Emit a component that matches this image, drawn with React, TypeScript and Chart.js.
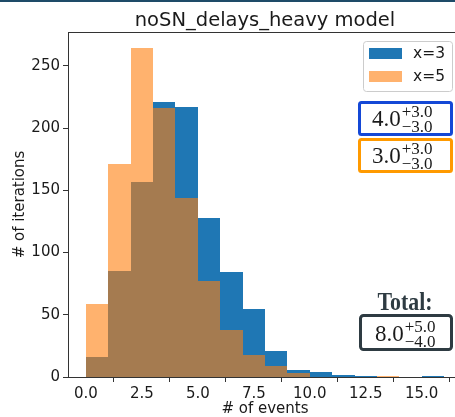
import React, { useEffect, useRef } from "react";
import { Chart, registerables } from "chart.js";

Chart.register(...registerables);

// ---------- data ----------
const binLefts = [0, 1, 2, 3, 4, 5, 6, 7, 8, 9, 10, 11, 12, 13, 14, 15];
const binWidth = 1;
const countsX3 = [16, 85, 157, 221, 217, 128, 84, 55, 21, 6, 4, 2, 1, 0, 0, 1];
const countsX5 = [59, 171, 264, 216, 144, 77, 38, 18, 9, 3, 0, 0, 0, 1, 0, 0];
const seriesLabels = ["x=3", "x=5"];
const xTicks = [0, 2.5, 5, 7.5, 10, 12.5, 15];
const yTicks = [0, 50, 100, 150, 200, 250];
const xRange = [-0.8, 16.8];
const yRange = [0, 277.2];
const titleText = "noSN_delays_heavy model";
const xLabel = "# of events";
const yLabel = "# of iterations";
const estimateMain = ["4.0", "3.0", "8.0"];
const estimateUp = ["+3.0", "+3.0", "+5.0"];
const estimateDown = ["\u22123.0", "\u22123.0", "\u22124.0"];
const totalLabel = "Total:";

const BLUE = "#1f77b4";
const ORANGE = "rgba(255,127,14,0.6)";
const SANS = '"DejaVu Sans", sans-serif';
const SERIF = '"Liberation Serif", serif';

function drawEstimate(ctx: CanvasRenderingContext2D, x: number, base: number, i: number) {
  ctx.fillStyle = "#1a1a1a";
  ctx.textAlign = "left";
  ctx.textBaseline = "alphabetic";
  ctx.font = `23px ${SERIF}`;
  ctx.fillText(estimateMain[i], x, base);
  const w = ctx.measureText(estimateMain[i]).width;
  ctx.font = `17px ${SERIF}`;
  ctx.fillText(estimateUp[i], x + w + 1, base - 9);
  ctx.fillText(estimateDown[i], x + w + 1, base + 6);
}

// snap bar edges to whole pixels so adjacent bins meet without seams
const snapPlugin = {
  id: "snapBars",
  beforeDatasetsDraw(chart: any) {
    chart.getSortedVisibleDatasetMetas().forEach((meta: any) => {
      meta.data.forEach((el: any) => {
        const l = Math.round(el.x - el.width / 2);
        const r = Math.round(el.x + el.width / 2);
        el.x = (l + r) / 2;
        el.width = r - l;
        el.y = Math.round(el.y);
        el.base = Math.round(el.base);
      });
    });
  },
};

const overlayPlugin = {
  id: "overlay",
  afterDraw(chart: any) {
    const ctx: CanvasRenderingContext2D = chart.ctx;
    const a = chart.chartArea;
    ctx.save();
    // slide strip
    ctx.fillStyle = "#1e4b68";
    ctx.fillRect(0, 0, 470, 2);
    // top/right spines
    ctx.strokeStyle = "#333";
    ctx.lineWidth = 1;
    ctx.beginPath();
    ctx.moveTo(a.left, Math.round(a.top) + 0.5);
    ctx.lineTo(a.right, Math.round(a.top) + 0.5);
    ctx.lineTo(a.right, a.bottom);
    ctx.stroke();
    // title
    ctx.fillStyle = "#1a1a1a";
    ctx.font = `19.5px ${SANS}`;
    ctx.textAlign = "center";
    ctx.textBaseline = "alphabetic";
    ctx.fillText(titleText, (a.left + a.right) / 2, 26);
    // axis labels
    ctx.font = `15px ${SANS}`;
    ctx.fillText(xLabel, (a.left + a.right) / 2, 413);
    ctx.save();
    ctx.translate(24, (a.top + a.bottom) / 2);
    ctx.rotate(-Math.PI / 2);
    ctx.fillText(yLabel, 0, 0);
    ctx.restore();
    // legend
    ctx.fillStyle = "rgba(255,255,255,0.8)";
    ctx.strokeStyle = "#cccccc";
    ctx.beginPath();
    ctx.roundRect(363.5, 41.5, 89, 50, 3);
    ctx.fill();
    ctx.stroke();
    const colors = [BLUE, ORANGE];
    seriesLabels.forEach((lab, i) => {
      const y = 48 + i * 23;
      ctx.fillStyle = colors[i];
      ctx.fillRect(369, y, 33, 11);
      ctx.fillStyle = "#1a1a1a";
      ctx.font = `15.5px ${SANS}`;
      ctx.textAlign = "left";
      ctx.textBaseline = "middle";
      ctx.fillText(lab, 413, y + 5.5);
    });
    // estimate boxes
    ctx.lineWidth = 3;
    ctx.fillStyle = "#fff";
    ctx.strokeStyle = "#1448d6";
    ctx.beginPath();
    ctx.roundRect(359.5, 102.5, 92, 32, 2);
    ctx.fill();
    ctx.stroke();
    drawEstimate(ctx, 372, 126, 0);
    ctx.fillStyle = "#fff";
    ctx.strokeStyle = "#ff9a00";
    ctx.beginPath();
    ctx.roundRect(359.5, 139.5, 92, 32, 2);
    ctx.fill();
    ctx.stroke();
    drawEstimate(ctx, 372, 163, 1);
    // total
    ctx.save();
    ctx.fillStyle = "#2e3b42";
    ctx.translate(405, 310);
    ctx.scale(0.84, 1);
    ctx.font = `bold 26px ${SERIF}`;
    ctx.textAlign = "center";
    ctx.textBaseline = "alphabetic";
    ctx.fillText(totalLabel, 0, 0);
    ctx.restore();
    ctx.fillStyle = "#fff";
    ctx.strokeStyle = "#2e3b42";
    ctx.beginPath();
    ctx.roundRect(360.5, 315.5, 91, 34, 3);
    ctx.fill();
    ctx.stroke();
    drawEstimate(ctx, 375, 341, 2);
    ctx.restore();
  },
};

export default function App() {
  const ref = useRef<HTMLCanvasElement | null>(null);
  useEffect(() => {
    if (!ref.current) return;
    const mk = (counts: number[]) =>
      counts.map((v, i) => ({ x: binLefts[i] + binWidth / 2, y: v }));
    const axisCommon = {
      grid: {
        display: true,
        drawOnChartArea: false,
        drawTicks: true,
        tickLength: 5,
        color: "#333",
        lineWidth: 1,
      },
      border: { display: true, color: "#333", width: 1 },
    };
    const barCommon = {
      borderWidth: 0,
      grouped: false,
      barPercentage: 1,
      categoryPercentage: 1,
      inflateAmount: 0,
    };
    const chart = new Chart(ref.current, {
      type: "bar",
      data: {
        datasets: [
          {
            label: seriesLabels[1],
            data: mk(countsX5),
            backgroundColor: ORANGE,
            order: 0,
            ...barCommon,
          } as any,
          {
            label: seriesLabels[0],
            data: mk(countsX3),
            backgroundColor: BLUE,
            order: 1,
            ...barCommon,
          } as any,
        ],
      },
      options: {
        responsive: false,
        animation: false,
        devicePixelRatio: 1,
        layout: { padding: { top: 32, right: 8, left: 0, bottom: 0 } },
        plugins: { legend: { display: false }, tooltip: { enabled: false }, title: { display: false } },
        scales: {
          x: {
            type: "linear",
            min: xRange[0],
            max: xRange[1],
            offset: false,
            ...axisCommon,
            afterBuildTicks: (s: any) => {
              s.ticks = xTicks.map((v) => ({ value: v }));
            },
            afterFit: (s: any) => {
              s.height = 40;
            },
            ticks: {
              autoSkip: false,
              maxRotation: 0,
              padding: 3,
              color: "#1a1a1a",
              font: { family: SANS, size: 15 },
              callback: (v: any) => Number(v).toFixed(1),
            },
          },
          y: {
            type: "linear",
            min: yRange[0],
            max: yRange[1],
            ...axisCommon,
            afterBuildTicks: (s: any) => {
              s.ticks = yTicks.map((v) => ({ value: v }));
            },
            afterFit: (s: any) => {
              s.width = 68;
            },
            ticks: {
              autoSkip: false,
              padding: 3,
              color: "#1a1a1a",
              font: { family: SANS, size: 15 },
              callback: (v: any) => String(v),
            },
          },
        },
      } as any,
      plugins: [snapPlugin, overlayPlugin],
    });
    return () => chart.destroy();
  }, []);
  return (
    <div
      style={{
        position: "fixed",
        left: 0,
        top: 0,
        width: 455,
        height: 417,
        overflow: "hidden",
        background: "#fff",
      }}
    >
      <canvas ref={ref} width={470} height={417} style={{ display: "block", width: 470, height: 417 }} />
    </div>
  );
}
